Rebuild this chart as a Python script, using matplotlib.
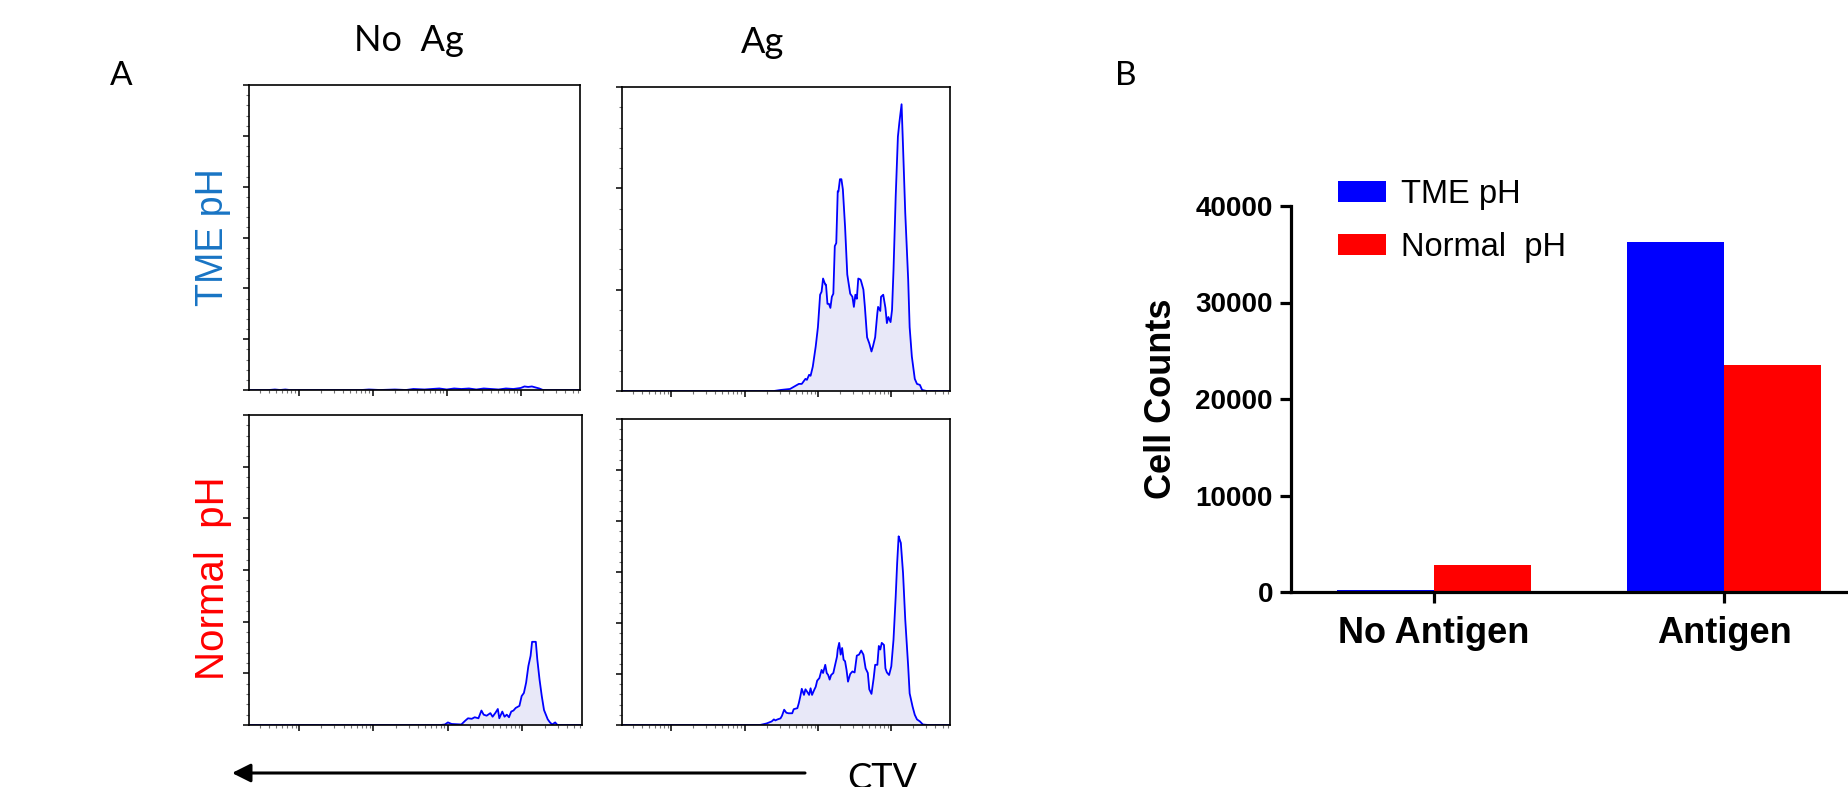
import numpy as np
import matplotlib.pyplot as plt
from matplotlib.patches import FancyArrowPatch
from matplotlib.ticker import MultipleLocator, LogLocator, NullFormatter

# ---- panel A : CTV histograms (x = log10 channel, y = count units) ----
tme_noag_log = [1.33, 1.60, 1.68, 1.75, 1.82, 1.88, 1.95, 2.85, 2.95, 3.10, 3.30, 3.45,
                3.55, 3.70, 3.80, 3.90, 4.00, 4.10, 4.20, 4.30, 4.40, 4.50, 4.60,
                4.70, 4.80, 4.90, 5.00, 5.05, 5.10, 5.15, 5.20, 5.25, 5.30, 5.80]
tme_noag_cnt = [0.0, 0.0, 0.01, 0.0, 0.01, 0.0, 0.0, 0.0, 0.01, 0.0, 0.01, 0.0,
                0.02, 0.01, 0.02, 0.03, 0.01, 0.03, 0.02, 0.03, 0.01, 0.03, 0.02,
                0.01, 0.03, 0.02, 0.04, 0.07, 0.06, 0.07, 0.05, 0.03, 0.0, 0.0]

tme_ag_log = [1.33, 3.40, 3.49, 3.62, 3.74, 3.78, 3.83, 3.85, 3.88, 3.90, 3.93, 3.97,
              4.00, 4.03, 4.05, 4.07, 4.10, 4.11, 4.13, 4.15, 4.17, 4.19, 4.21,
              4.23, 4.25, 4.27, 4.28, 4.30, 4.32, 4.34, 4.37, 4.40, 4.44, 4.47,
              4.49, 4.51, 4.53, 4.55, 4.58, 4.59, 4.62, 4.64, 4.67, 4.70, 4.73,
              4.75, 4.78, 4.81, 4.82, 4.85, 4.86, 4.89, 4.92, 4.94, 4.96, 4.99,
              5.01, 5.03, 5.06, 5.09, 5.11, 5.14, 5.16, 5.19, 5.23, 5.25, 5.28,
              5.32, 5.35, 5.39, 5.42, 5.48, 5.80]
tme_ag_cnt = [0.0, 0.0, 0.01, 0.02, 0.07, 0.07, 0.12, 0.11, 0.16, 0.15, 0.24, 0.44,
              0.63, 0.95, 0.98, 1.11, 1.05, 1.05, 0.86, 0.86, 0.82, 0.93, 0.96,
              1.43, 1.46, 1.97, 1.97, 2.09, 2.09, 1.99, 1.62, 1.15, 0.96, 0.93,
              0.83, 0.95, 0.91, 1.11, 1.10, 1.08, 1.00, 0.83, 0.53, 0.47, 0.39,
              0.44, 0.53, 0.77, 0.83, 0.79, 0.93, 0.95, 0.82, 0.67, 0.73, 0.68,
              0.80, 1.19, 1.92, 2.51, 2.65, 2.83, 2.41, 1.76, 1.10, 0.63, 0.34,
              0.12, 0.07, 0.06, 0.01, 0.0, 0.0]

norm_noag_log = [1.33, 3.90, 3.96, 4.00, 4.05, 4.18, 4.23, 4.27, 4.32, 4.36, 4.41,
                 4.45, 4.48, 4.52, 4.57, 4.60, 4.64, 4.67, 4.69, 4.73, 4.76, 4.79,
                 4.82, 4.85, 4.88, 4.91, 4.96, 4.99, 5.02, 5.05, 5.08, 5.11, 5.13,
                 5.18, 5.20, 5.23, 5.26, 5.29, 5.34, 5.37, 5.40, 5.44, 5.47, 5.80]
norm_noag_cnt = [0.0, 0.0, 0.01, 0.05, 0.02, 0.01, 0.08, 0.13, 0.12, 0.15, 0.13,
                 0.28, 0.20, 0.18, 0.23, 0.16, 0.24, 0.31, 0.13, 0.26, 0.16, 0.20,
                 0.15, 0.26, 0.28, 0.33, 0.37, 0.56, 0.62, 0.82, 1.14, 1.34, 1.61,
                 1.61, 1.27, 0.88, 0.56, 0.29, 0.11, 0.05, 0.01, 0.05, 0.0, 0.0]

norm_ag_log = [1.33, 3.21, 3.30, 3.37, 3.40, 3.42, 3.45, 3.49, 3.51, 3.54, 3.57,
               3.60, 3.65, 3.67, 3.72, 3.74, 3.76, 3.78, 3.81, 3.83, 3.85, 3.88,
               3.90, 3.92, 3.95, 3.97, 3.99, 4.02, 4.05, 4.07, 4.10, 4.12, 4.14,
               4.16, 4.18, 4.21, 4.23, 4.26, 4.27, 4.29, 4.31, 4.33, 4.35, 4.37,
               4.39, 4.41, 4.44, 4.47, 4.50, 4.53, 4.56, 4.59, 4.62, 4.65, 4.68,
               4.70, 4.73, 4.76, 4.78, 4.81, 4.83, 4.85, 4.87, 4.90, 4.92, 4.94,
               4.97, 5.00, 5.03, 5.06, 5.08, 5.10, 5.12, 5.13, 5.16, 5.19, 5.23,
               5.25, 5.29, 5.32, 5.35, 5.39, 5.43, 5.50, 5.80]
norm_ag_cnt = [0.0, 0.0, 0.03, 0.07, 0.11, 0.09, 0.11, 0.13, 0.18, 0.30, 0.24,
               0.23, 0.23, 0.31, 0.33, 0.43, 0.56, 0.71, 0.59, 0.70, 0.66, 0.59,
               0.72, 0.59, 0.69, 0.75, 0.87, 0.92, 1.08, 1.02, 1.18, 1.02, 0.98,
               0.89, 0.98, 1.02, 1.15, 1.34, 1.48, 1.61, 1.38, 1.51, 1.28, 1.25,
               1.08, 0.85, 1.00, 1.05, 1.03, 1.36, 1.38, 1.46, 1.38, 1.11, 1.02,
               0.70, 0.61, 0.92, 1.18, 1.18, 1.55, 1.48, 1.61, 1.57, 1.11, 1.03,
               0.98, 1.15, 1.67, 2.52, 3.18, 3.70, 3.61, 3.57, 2.98, 2.07, 1.15,
               0.62, 0.36, 0.20, 0.11, 0.07, 0.01, 0.0, 0.0]

# ---- panel B : cell counts ----
categories = ["No Antigen", "Antigen"]
tme_counts = [250, 36300]
normal_counts = [2800, 23500]
series_labels = ["TME pH", "Normal  pH"]

LINE = "#0000ff"
FILL = "#e8e8f8"
TME_TXT = "#1874c4"
LETTER_FONT = ["Lato", "DejaVu Sans"]
ARIAL = ["Liberation Sans", "DejaVu Sans"]

W, H = 1849, 787
fig = plt.figure(figsize=(W / 100, H / 100), dpi=100)


def px_axes(x0, y0, x1, y1):
    # pixel box (left, top, right, bottom) -> figure axes
    return fig.add_axes([x0 / W, 1 - y1 / H, (x1 - x0) / W, (y1 - y0) / H])


def draw_hist(ax, logx, counts, ymax):
    x = 10 ** np.asarray(logx)
    ax.fill_between(x, counts, color=FILL, lw=0)
    ax.plot(x, counts, color=LINE, lw=1.3)
    ax.set_xscale("log")
    ax.set_xlim(10 ** 1.33, 10 ** 5.8)
    ax.set_ylim(0, ymax)
    ax.yaxis.set_major_locator(MultipleLocator(1))
    ax.yaxis.set_minor_locator(MultipleLocator(0.2))
    ax.xaxis.set_major_locator(LogLocator(base=10, numticks=10))
    ax.xaxis.set_minor_locator(LogLocator(base=10, subs=np.arange(2, 10), numticks=30))
    for axis in (ax.xaxis, ax.yaxis):
        axis.set_major_formatter(NullFormatter())
        axis.set_minor_formatter(NullFormatter())
    ax.tick_params(which="major", direction="out", length=4, width=1.1, color="black")
    ax.tick_params(which="minor", direction="out", length=2.5, width=0.8, color="0.45")
    for s in ax.spines.values():
        s.set_linewidth(1.2)


ax_tl = px_axes(249, 85, 580, 390)
ax_tr = px_axes(622, 87, 950, 391)
ax_bl = px_axes(249, 415, 582, 725)
ax_br = px_axes(622, 419, 950, 725)
draw_hist(ax_tl, tme_noag_log, tme_noag_cnt, 6)
draw_hist(ax_tr, tme_ag_log, tme_ag_cnt, 3)
draw_hist(ax_bl, norm_noag_log, norm_noag_cnt, 6)
draw_hist(ax_br, norm_ag_log, norm_ag_cnt, 6)

# panel A annotations
fig.text(121 / W, 1 - 85 / H, "A", fontsize=24, family=LETTER_FONT, ha="center", va="baseline")
fig.text(409 / W, 1 - 51 / H, "No  Ag", fontsize=26, family=LETTER_FONT, ha="center", va="baseline")
fig.text(763 / W, 1 - 53 / H, "Ag", fontsize=26, family=LETTER_FONT, ha="center", va="baseline")
fig.text(213 / W, 1 - 237 / H, "TME pH", fontsize=27, family=ARIAL, color=TME_TXT,
         rotation=90, ha="center", va="center")
fig.text(213 / W, 1 - 578 / H, "Normal  pH", fontsize=29, family=ARIAL, color="red",
         rotation=90, ha="center", va="center")
arrow = FancyArrowPatch((805 / W, 1 - 773 / H), (232 / W, 1 - 773 / H),
                        transform=fig.transFigure, arrowstyle="-|>", lw=2.2,
                        color="black", mutation_scale=28, shrinkA=0, shrinkB=0)
fig.add_artist(arrow)
fig.text(882 / W, 1 - 762 / H, "CTV", fontsize=26, family=LETTER_FONT, ha="center", va="top")
fig.text(1126 / W, 1 - 85 / H, "B", fontsize=24, family=LETTER_FONT, ha="center", va="baseline")

# panel B bar chart
ax_b = px_axes(1291, 206, 1849, 592)
xpos = np.arange(len(categories))
bw = 0.334
b1 = ax_b.bar(xpos - bw / 2, tme_counts, bw, color="#0000ff", label=series_labels[0])
b2 = ax_b.bar(xpos + bw / 2, normal_counts, bw, color="#ff0000", label=series_labels[1])
ax_b.set_xlim(-0.493, 1.431)
ax_b.set_ylim(0, 40000)
ax_b.set_yticks([0, 10000, 20000, 30000, 40000])
ax_b.set_xticks(xpos)
ax_b.set_xticklabels(categories, fontsize=26, fontweight="bold", family=ARIAL)
for lab in ax_b.get_yticklabels():
    lab.set_fontsize(20)
    lab.set_fontweight("bold")
    lab.set_family(ARIAL)
ax_b.spines["top"].set_visible(False)
ax_b.spines["right"].set_visible(False)
ax_b.spines["left"].set_linewidth(2.3)
ax_b.spines["bottom"].set_linewidth(2.3)
ax_b.tick_params(axis="y", length=8, width=2.3, pad=5)
ax_b.tick_params(axis="x", length=8, width=2.3, pad=9)
ax_b.set_ylabel("Cell Counts", fontsize=26, fontweight="bold", family=ARIAL)
ax_b.yaxis.set_label_coords(-0.2, 0.5)
ax_b.legend(handles=[b1, b2], loc="upper left", bbox_to_anchor=(0.084, 1.07),
            frameon=False, borderpad=0, borderaxespad=0, handlelength=1.47,
            handleheight=0.61, handletextpad=0.45, labelspacing=0.67,
            prop={"family": ARIAL, "size": 23.5})

fig.savefig("out.png", dpi=100)
